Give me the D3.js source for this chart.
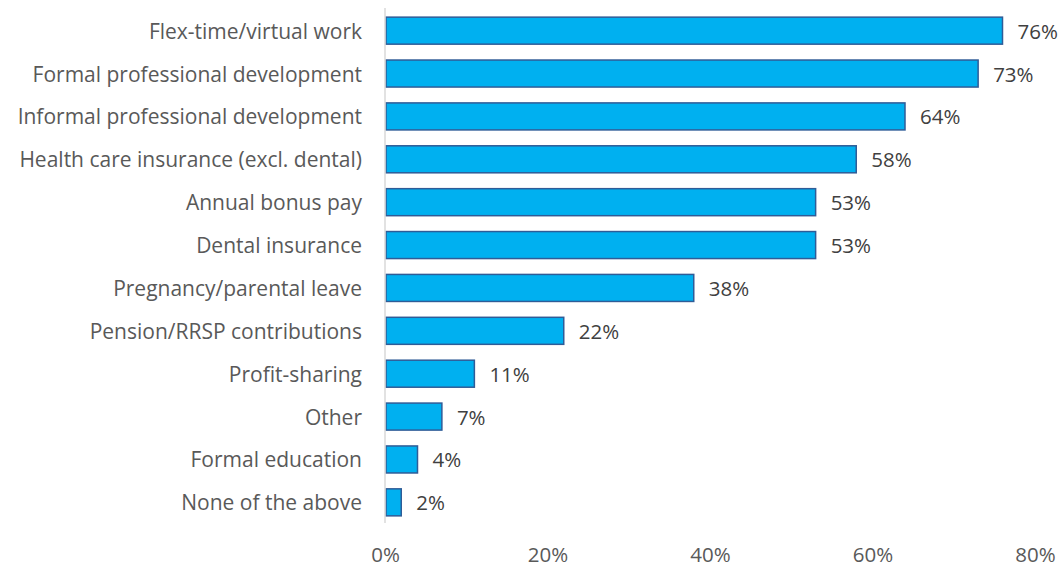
<!DOCTYPE html>
<html>
<head>
<meta charset="utf-8">
<script src="https://cdn.jsdelivr.net/npm/d3@7"></script>
<style>
  body { margin: 0; background: #fff; }
  text { font-family: "Open Sans", sans-serif; fill: #595959; }
</style>
</head>
<body>
<div id="chart"></div>
<script>
// benefits offered, share of respondents (%)
var categories = [
  "Flex-time/virtual work",
  "Formal professional development",
  "Informal professional development",
  "Health care insurance (excl. dental)",
  "Annual bonus pay",
  "Dental insurance",
  "Pregnancy/parental leave",
  "Pension/RRSP contributions",
  "Profit-sharing",
  "Other",
  "Formal education",
  "None of the above"
]
var values = [76, 73, 64, 58, 53, 53, 38, 22, 11, 7, 4, 2]
var tickValues = [0, 20, 40, 60, 80]

var svgWidth = 1063
var svgHeight = 567
var margin = { top: 9, right: 28, bottom: 44, left: 385 }

var svg = d3.select('#chart')
  .append('svg')
  .attr('width', svgWidth)
  .attr('height', svgHeight)

var chartGroup = svg.append('g')
  .attr('transform', `translate(${margin.left}, ${margin.top})`)

var xScale = d3.scaleLinear()
  .domain([0, 80])
  .range([0, 650])

var yScale = d3.scaleBand()
  .domain(categories)
  .range([0, 515])
  .paddingInner(0.37)
  .paddingOuter(0.19)

// x axis: labels only
var xAxis = d3.axisBottom(xScale)
  .tickValues(tickValues)
  .tickSize(0)
  .tickPadding(0)
  .tickFormat(d => d + '%')

var xg = chartGroup.append('g')
  .attr('transform', 'translate(0, 553)')
  .call(xAxis)
xg.select('.domain').remove()
xg.selectAll('text')
  .attr('dy', null)
  .attr('y', 0)
  .style('font-family', '"Open Sans", sans-serif')
  .style('font-size', '20.5px')
  .style('fill', '#595959')

// bars
chartGroup.selectAll('.bar')
  .data(values)
  .enter()
  .append('rect')
  .attr('class', 'bar')
  .attr('x', xScale(0) + 1)
  .attr('y', (d, i) => yScale(categories[i]))
  .attr('width', d => xScale(d) - xScale(0) - 1)
  .attr('height', yScale.bandwidth())
  .attr('fill', '#00B0F0')
  .attr('stroke', '#2F5C97')
  .attr('stroke-width', 1.5)

// vertical axis line
chartGroup.append('line')
  .attr('x1', 0).attr('x2', 0)
  .attr('y1', -1).attr('y2', 514)
  .attr('stroke', '#d9d9d9')
  .attr('stroke-width', 1.5)

// category labels
chartGroup.selectAll('.cat')
  .data(categories)
  .enter()
  .append('text')
  .attr('class', 'cat')
  .attr('x', -23)
  .attr('y', d => yScale(d) + yScale.bandwidth() / 2)
  .attr('text-anchor', 'end')
  .attr('dominant-baseline', 'central')
  .style('font-size', '21px')
  .text(d => d)

// value labels
chartGroup.selectAll('.val')
  .data(values)
  .enter()
  .append('text')
  .attr('class', 'val')
  .attr('x', d => xScale(d) + 15)
  .attr('y', (d, i) => yScale(categories[i]) + yScale.bandwidth() / 2)
  .attr('dominant-baseline', 'central')
  .style('font-size', '20.5px')
  .style('fill', '#404040')
  .text(d => d + '%')
</script>
</body>
</html>
